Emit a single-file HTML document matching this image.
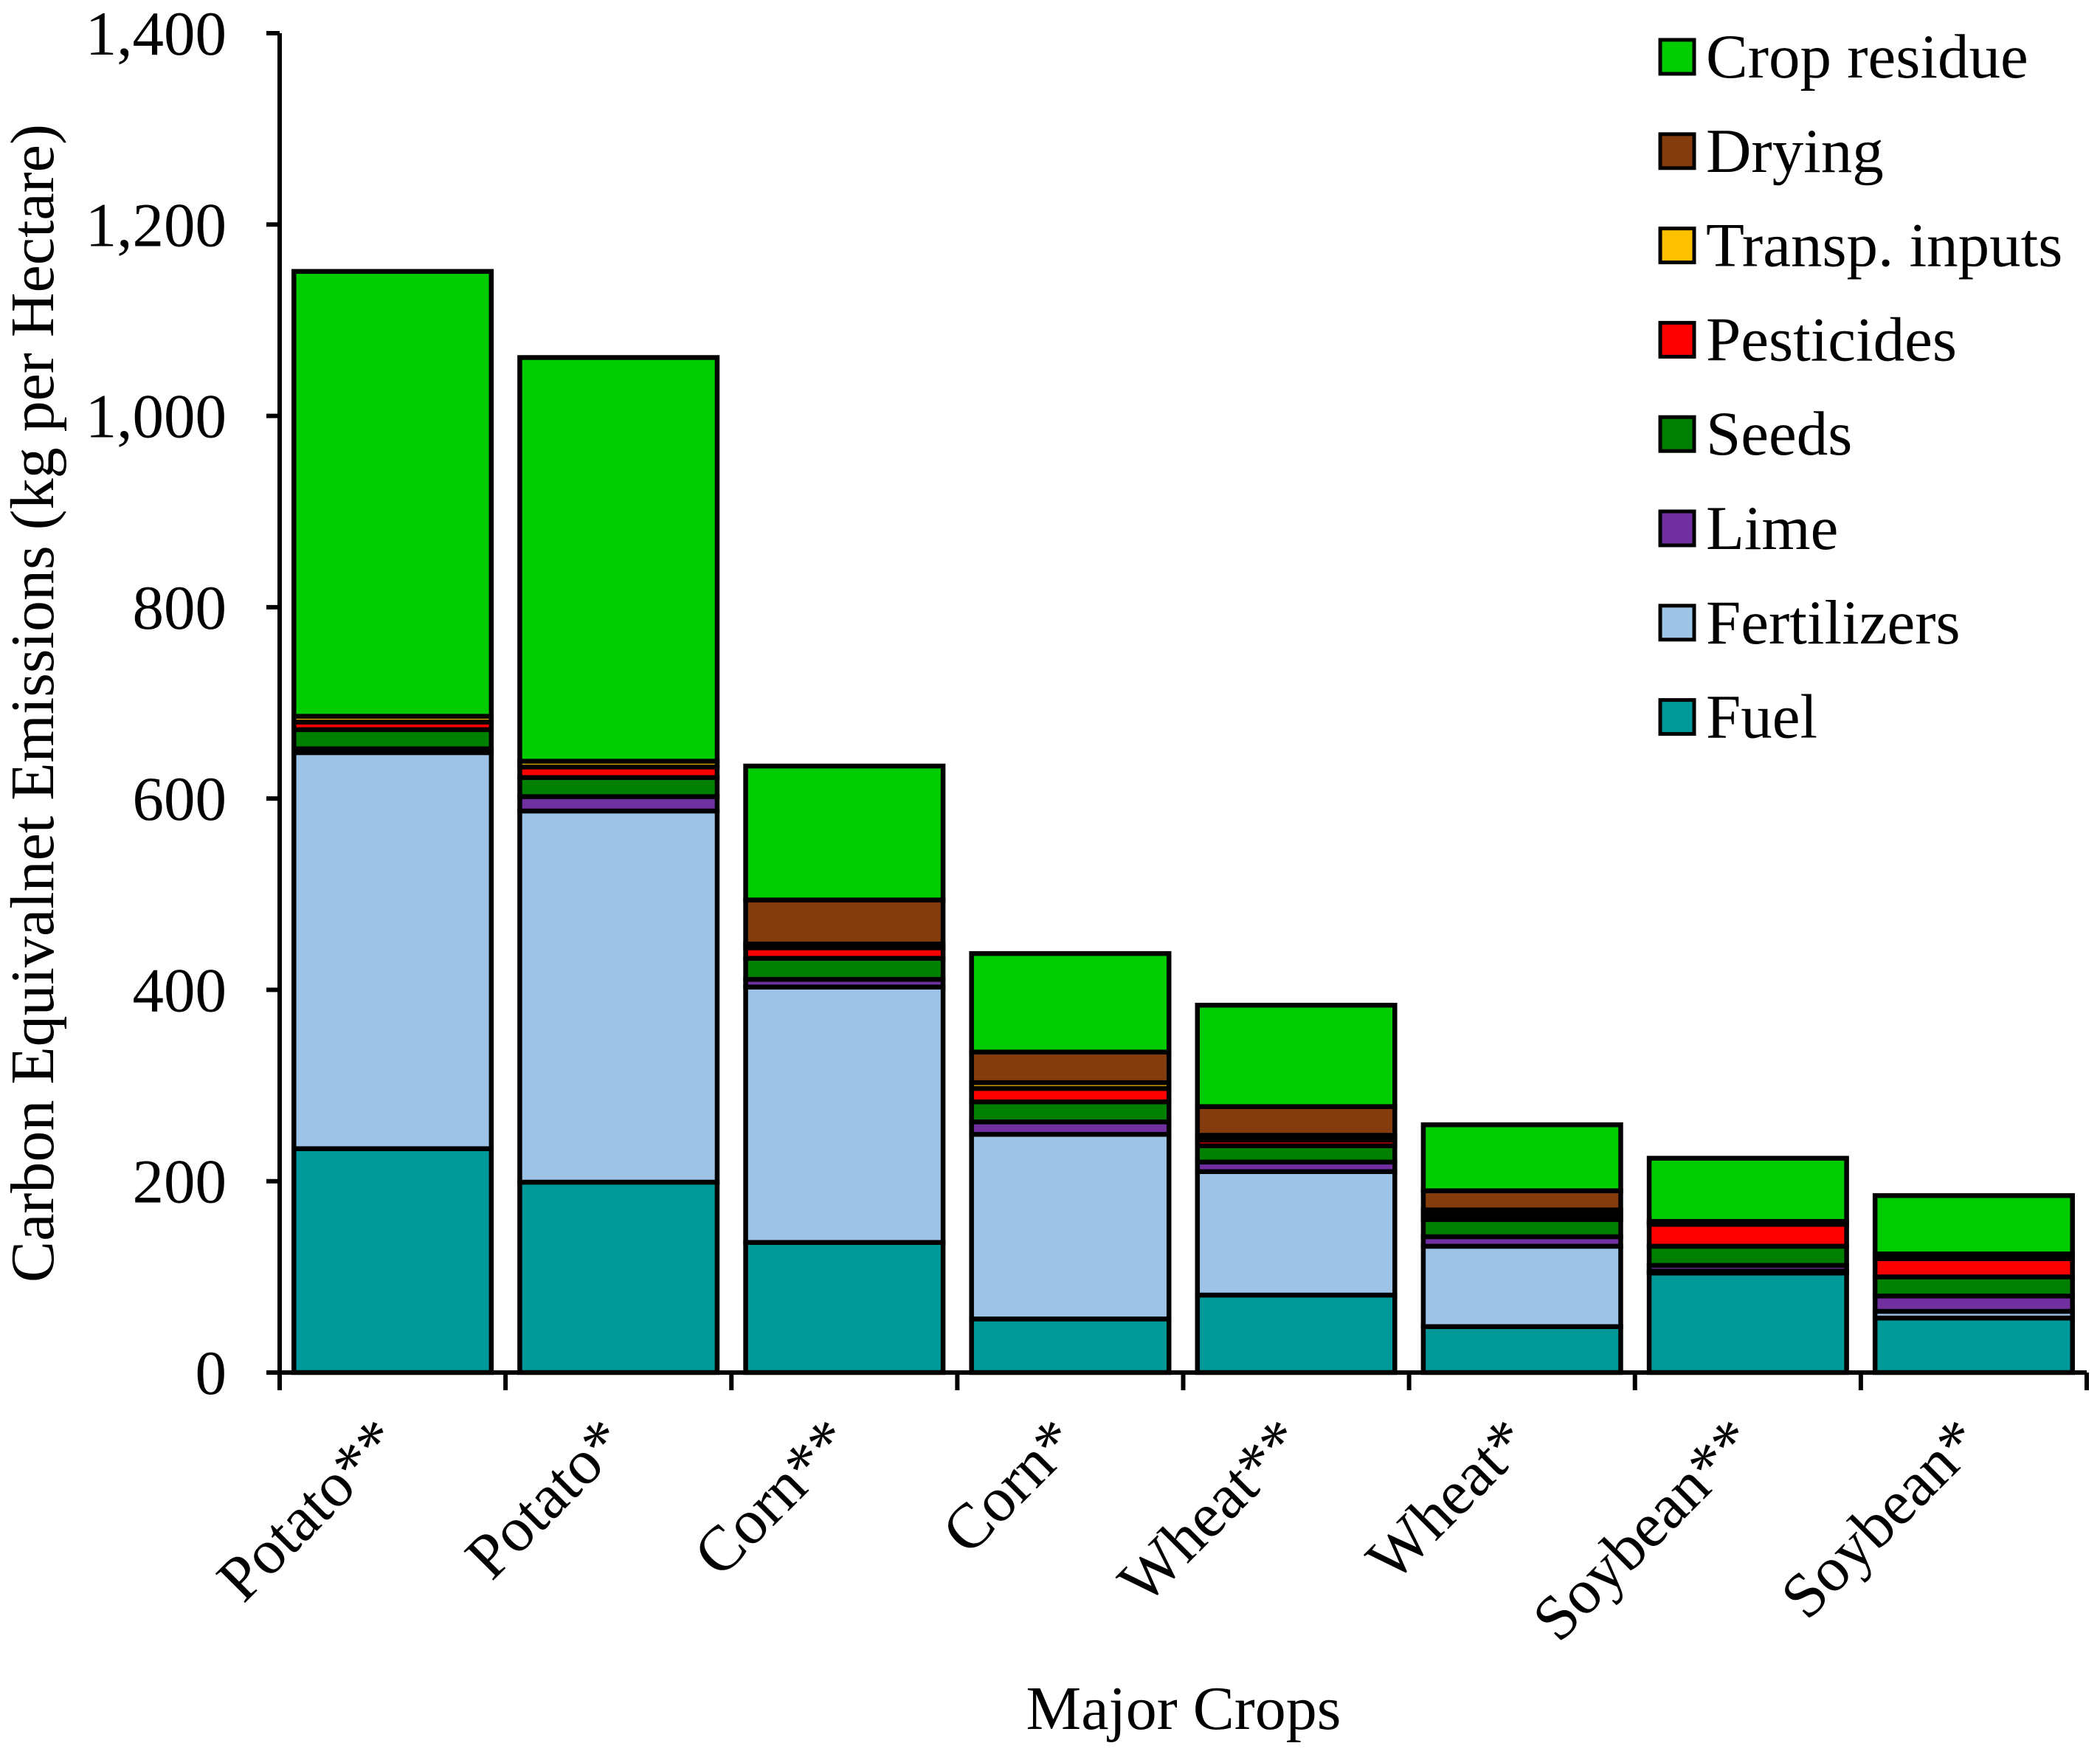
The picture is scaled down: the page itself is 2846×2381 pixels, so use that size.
<!DOCTYPE html>
<html><head><meta charset="utf-8"><style>
html,body{margin:0;padding:0;background:#fff;}
svg{display:block;}
svg text{font-family:"Liberation Serif",serif;}
</style></head><body>
<svg id="chart" width="2846" height="2381" viewBox="0 0 2846 2381" xmlns="http://www.w3.org/2000/svg">
<g id="plot"></g>
<g id="axes"></g>
<g id="legend"></g>
<text x="0" y="0" font-size="84" font-family="Liberation Serif, serif" text-anchor="middle" transform="translate(72,953) rotate(-90)">Carbon Equivalnet Emissions (kg per Hectare)</text>
<text x="1604" y="2343" font-size="84" font-family="Liberation Serif, serif" text-anchor="middle">Major Crops</text>
</svg>
<script>
const categories = ["Potato**","Potato*","Corn**","Corn*","Wheat**","Wheat*","Soybean**","Soybean*"];
const seriesNames = ["Fuel","Fertilizers","Lime","Seeds","Pesticides","Transp. inputs","Drying","Crop residue"];
const fuel       = [234,199,136,56,81,48,104,57];
const fertilizers= [414,388,267,193,129,84,2,7];
const lime       = [4,15,8,13,10,10,6,16];
const seeds      = [20,20,22,21,17,18,20,20];
const pesticides = [8,11,11,14,6,5,23,19];
const transp     = [6,6,4,6,5,5,3,5];
const drying     = [0,0,46,32,30,20,0,0];
const residue    = [465,422,140,103,106,69,66,61];
const yTicks = [0,200,400,600,800,1000,1200,1400];
const yTickLabels = ["0","200","400","600","800","1,000","1,200","1,400"];

const series = [fuel,fertilizers,lime,seeds,pesticides,transp,drying,residue];
const colors = ["#009999","#9DC3E6","#7030A0","#008000","#FF0000","#FFC000","#843C0C","#00CC00"];
const NS="http://www.w3.org/2000/svg";
const FONT="Liberation Serif, serif";
const X0=379, X1=2828, Y0=1860, YT=45, YMAX=1400;
const band=(X1-X0)/categories.length;
function y(v){return Y0-(v/YMAX)*(Y0-YT);}
function xc(i){return X0+band*(i+0.5);}
function mk(tag,attrs,parent){const e=document.createElementNS(NS,tag);for(const k in attrs)e.setAttribute(k,attrs[k]);parent.appendChild(e);return e;}
const plot=document.getElementById('plot'), axes=document.getElementById('axes'), legend=document.getElementById('legend');
const bw=band*0.874;
categories.forEach((c,i)=>{
  let acc=0;
  series.forEach((s,k)=>{
    const v=s[i]; if(v<=0) return;
    const r=mk('rect',{x:xc(i)-bw/2,y:y(acc+v),width:bw,height:y(acc)-y(acc+v),fill:colors[k],stroke:'#000','stroke-width':6.5},plot);
    
    
    acc+=v;
  });
  const t=mk('text',{x:0,y:0,'font-size':86,'font-family':FONT,'text-anchor':'end',transform:`translate(${xc(i)+14},${Y0+98}) rotate(-45)`},axes);
  t.textContent=c;
  
  
});
mk('line',{x1:X0,y1:YT,x2:X0,y2:Y0,stroke:'#000','stroke-width':6},axes);
mk('line',{x1:X0-18,y1:Y0,x2:X1,y2:Y0,stroke:'#000','stroke-width':6},axes);
yTicks.forEach((v,j)=>{
  mk('line',{x1:X0-18,y1:y(v),x2:X0,y2:y(v),stroke:'#000','stroke-width':6},axes);
  const t=mk('text',{x:X0-72,y:y(v)+29,'font-size':85,'font-family':FONT,'text-anchor':'end'},axes);
  t.textContent=yTickLabels[j];
  
  
});
for(let i=0;i<=categories.length;i++){
  mk('line',{x1:X0+band*i,y1:Y0,x2:X0+band*i,y2:Y0+24,stroke:'#000','stroke-width':6},axes);
}
for(let k=seriesNames.length-1;k>=0;k--){
  const row=seriesNames.length-1-k;
  const ly=78+row*127.8;
  const g=mk('g',{},legend);
  
  
  mk('rect',{x:2250,y:ly-24,width:46,height:46,fill:colors[k],stroke:'#000','stroke-width':5},g);
  const t=mk('text',{x:2312,y:ly+27,'font-size':85,'font-family':FONT},g);
  t.textContent=seriesNames[k];
}
</script>
</body></html>
